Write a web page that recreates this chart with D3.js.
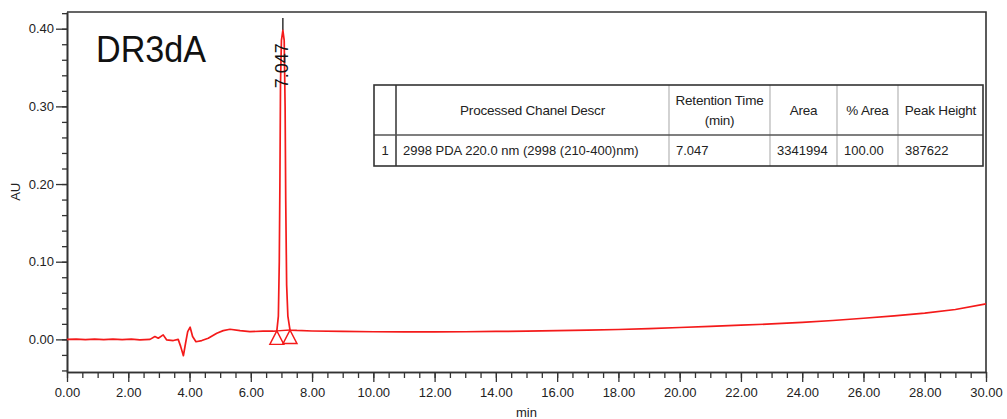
<!DOCTYPE html>
<html>
<head>
<meta charset="utf-8">
<script src="https://cdn.jsdelivr.net/npm/d3@7"></script>
<style>
  body { margin: 0; background: #fff; }
  svg { display: block; font-family: "Liberation Sans", Arial, sans-serif; }
</style>
</head>
<body>
<div id="chart"></div>
<script>
// chromatogram trace (min, AU)
const times = [0, 0.3, 0.6, 0.9, 1.2, 1.5, 1.8, 2.1, 2.38, 2.71, 2.87, 2.98, 3.14, 3.25, 3.47, 3.63, 3.71, 3.80, 3.87, 3.94, 4.02, 4.10, 4.21, 4.40, 4.61, 4.89, 5.10, 5.32, 5.65, 5.97, 6.4, 6.74,
  6.85, 6.90, 6.93, 6.95, 6.97, 7.00, 7.047, 7.09, 7.12, 7.14, 7.17, 7.21, 7.28,
  7.5, 8, 9, 10, 11, 12, 13, 14, 15, 16, 17, 18, 19, 20, 21, 22, 23, 24, 25, 26, 27, 28, 29, 30];
const absorbance = [0, 0.0003, -0.0004, 0.0002, -0.0003, 0.0004, -0.0002, 0.0003, -0.0006, 0, 0.0036, 0.0015, 0.0058, -0.0006, -0.0015, 0, -0.009, -0.021, -0.005, 0.010, 0.0157, 0.0036, -0.003, -0.0015, 0.0015, 0.008, 0.0113, 0.013, 0.0113, 0.010, 0.0105, 0.0105,
  0.011, 0.03, 0.10, 0.20, 0.33, 0.385, 0.398, 0.385, 0.30, 0.18, 0.07, 0.03, 0.012,
  0.0115, 0.0108, 0.0102, 0.0098, 0.0096, 0.0096, 0.0098, 0.0102, 0.0107, 0.0113, 0.0119, 0.0127, 0.0139, 0.0153, 0.0168, 0.0183, 0.0199, 0.0218, 0.0243, 0.0272, 0.0302, 0.0337, 0.0385, 0.0457];

// integrated peak
const peakRT = 7.047;
const peakApex = 0.398;
const peakLabel = "7.047";
const peakBounds = [[6.85, 0.011], [7.28, 0.012]];

// axis ticks
const xMajor = d3.range(0, 30.01, 2);
const xMinor = d3.range(0, 30.01, 0.5);
const yMajor = [0, 0.1, 0.2, 0.3, 0.4];
const yMinor = d3.range(-0.04, 0.421, 0.02);

// results table
const tableHeaders = [[""], ["Processed Chanel Descr"], ["Retention Time", "(min)"], ["Area"], ["% Area"], ["Peak Height"]];
const tableRow = ["1", "2998 PDA 220.0 nm (2998 (210-400)nm)", "7.047", "3341994", "100.00", "387622"];

const sampleName = "DR3dA";

const W = 1007, H = 419;
const margin = {top: 12, right: 21, bottom: 47, left: 67};

const svg = d3.select("#chart").append("svg")
  .attr("width", W)
  .attr("height", H);

svg.append("rect").attr("width", W).attr("height", H).attr("fill", "#fff");

const x = d3.scaleLinear().domain([0, 30]).range([margin.left, W - margin.right]);
const y = d3.scaleLinear().domain([-0.042, 0.4215]).range([H - margin.bottom, margin.top]);

const axisColor = "#333";

// minor ticks first, then major ticks with labels
const xMinorAxis = svg.append("g")
  .attr("transform", "translate(0," + (H - margin.bottom) + ")")
  .call(d3.axisBottom(x).tickValues(xMinor).tickSize(6).tickSizeOuter(0).tickFormat(""));
const xAxis = svg.append("g")
  .attr("transform", "translate(0," + (H - margin.bottom) + ")")
  .call(d3.axisBottom(x).tickValues(xMajor).tickSize(10).tickSizeOuter(0).tickPadding(6).tickFormat(d3.format(".2f")));

const yMinorAxis = svg.append("g")
  .attr("transform", "translate(" + margin.left + ",0)")
  .call(d3.axisLeft(y).tickValues(yMinor).tickSize(5).tickSizeOuter(0).tickFormat(""));
const yAxis = svg.append("g")
  .attr("transform", "translate(" + margin.left + ",0)")
  .call(d3.axisLeft(y).tickValues(yMajor).tickSize(11).tickSizeOuter(0).tickPadding(2).tickFormat(d3.format(".2f")));

[xMinorAxis, xAxis, yMinorAxis, yAxis].forEach(g => {
  g.selectAll("path").attr("stroke", axisColor).attr("stroke-width", 1.6);
  g.selectAll("line").attr("stroke", axisColor).attr("stroke-width", 1.3);
  g.selectAll("text").attr("fill", "#222").style("font-size", "13px").style("font-family", "Liberation Sans, Arial, sans-serif");
});

// frame top + right
svg.append("path")
  .attr("d", `M${x(0)},${y.range()[1]}H${x(30)}V${y.range()[0]}`)
  .attr("fill", "none")
  .attr("stroke", axisColor)
  .attr("stroke-width", 1.6);

// axis titles
svg.append("text")
  .attr("x", (x(0) + x(30)) / 2)
  .attr("y", 417)
  .attr("text-anchor", "middle")
  .attr("fill", "#222")
  .style("font-size", "13px")
  .text("min");

svg.append("text")
  .attr("transform", "translate(20," + y(0.19) + ") rotate(-90)")
  .attr("text-anchor", "middle")
  .attr("fill", "#222")
  .style("font-size", "13px")
  .text("AU");

// sample name
svg.append("text")
  .attr("x", 96)
  .attr("y", 62)
  .attr("fill", "#111")
  .attr("textLength", 110)
  .attr("lengthAdjust", "spacingAndGlyphs")
  .style("font-size", "37px")
  .text(sampleName);

// trace
const pts = times.map((t, i) => [t, absorbance[i]]);
const line = d3.line().x(d => x(d[0])).y(d => y(d[1]));

const red = "#f41a1a";

// peak marker line (black) behind trace
svg.append("line")
  .attr("x1", x(peakRT)).attr("x2", x(peakRT))
  .attr("y1", 18).attr("y2", y(peakApex))
  .attr("stroke", "#111")
  .attr("stroke-width", 1.3);

svg.append("path")
  .datum(pts)
  .attr("d", line)
  .attr("fill", "none")
  .attr("stroke", red)
  .attr("stroke-width", 1.7)
  .attr("stroke-linejoin", "round");

// integration baseline and markers
svg.append("path")
  .datum(peakBounds)
  .attr("d", line)
  .attr("fill", "none")
  .attr("stroke", red)
  .attr("stroke-width", 1.4);

svg.selectAll(".tri")
  .data(peakBounds)
  .enter()
  .append("path")
  .attr("class", "tri")
  .attr("transform", d => "translate(" + x(d[0]) + "," + y(d[1]) + ")")
  .attr("d", "M0,0L7,13.5L-7,13.5Z")
  .attr("fill", "none")
  .attr("stroke", red)
  .attr("stroke-width", 1.4);

// peak label
svg.append("text")
  .attr("transform", "translate(" + (x(peakRT) + 5) + "," + (y(peakApex) + 13) + ") rotate(-90)")
  .attr("text-anchor", "end")
  .attr("fill", "#111")
  .style("font-size", "18px")
  .text(peakLabel);

// results table
const colX = [374, 396, 669, 770, 837, 898, 983];
const rowY = [85, 135, 166];
const tbl = svg.append("g").style("font-size", "13.5px").attr("fill", "#222");

tbl.append("rect")
  .attr("x", colX[0]).attr("y", rowY[0])
  .attr("width", colX[6] - colX[0]).attr("height", rowY[2] - rowY[0])
  .attr("fill", "#fff");

tbl.selectAll(".vline")
  .data(colX.slice(1, 6))
  .enter()
  .append("line")
  .attr("x1", d => d).attr("x2", d => d)
  .attr("y1", rowY[0]).attr("y2", rowY[2])
  .attr("stroke", (d, i) => i === 0 ? "#333" : "#b5b5b5")
  .attr("stroke-width", (d, i) => i === 0 ? 1.5 : 1.2);

tbl.append("line")
  .attr("x1", colX[0]).attr("x2", colX[6])
  .attr("y1", rowY[1]).attr("y2", rowY[1])
  .attr("stroke", "#555")
  .attr("stroke-width", 1.3);

tbl.append("rect")
  .attr("x", colX[0]).attr("y", rowY[0])
  .attr("width", colX[6] - colX[0]).attr("height", rowY[2] - rowY[0])
  .attr("fill", "none")
  .attr("stroke", "#333")
  .attr("stroke-width", 1.6);

tableHeaders.forEach((lines, i) => {
  const cx = (colX[i] + colX[i + 1]) / 2;
  const t = tbl.append("text").attr("text-anchor", "middle").attr("letter-spacing", "-0.2");
  lines.forEach((s, j) => {
    t.append("tspan")
      .attr("x", cx)
      .attr("y", lines.length === 1 ? 114.5 : 105 + j * 19.5)
      .text(s);
  });
});

tableRow.forEach((s, i) => {
  tbl.append("text")
    .attr("x", i === 0 ? (colX[0] + colX[1]) / 2 : colX[i] + 7)
    .attr("y", 155)
    .attr("text-anchor", i === 0 ? "middle" : "start")
    .style("font-size", "13px")
    .text(s);
});
</script>
</body>
</html>
